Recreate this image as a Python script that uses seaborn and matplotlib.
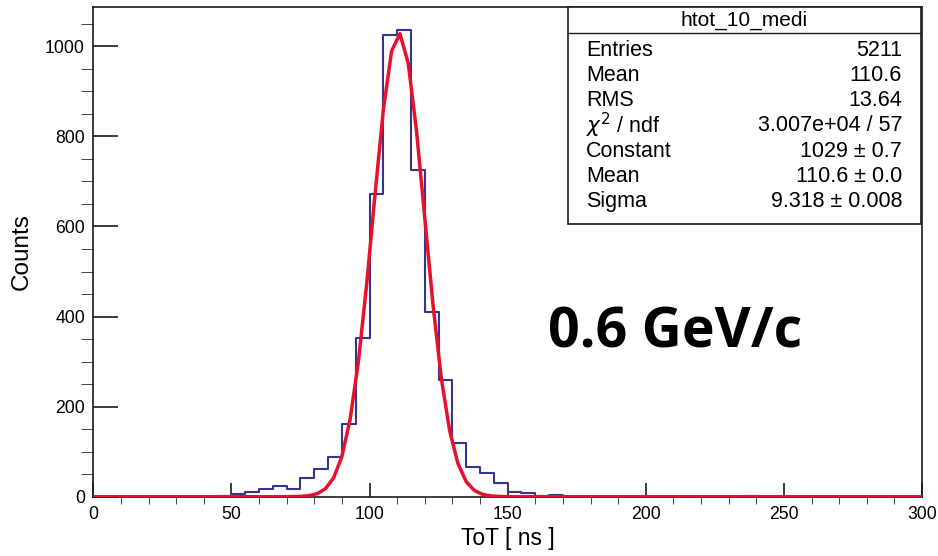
import numpy as np
import pandas as pd
import seaborn as sns
import matplotlib.pyplot as plt
from matplotlib.patches import Rectangle
from matplotlib.lines import Line2D
from matplotlib.ticker import MultipleLocator

# ToT histogram, 5 ns bins over 0..300 ns (counts)
bin_edges = list(range(0, 305, 5))
counts = [
    0, 0, 0, 0, 0, 0, 0, 0, 0, 1,          # 0 - 50
    6, 11, 16, 24, 18, 42, 62, 88, 162, 353,  # 50 - 100
    672, 1025, 1036, 726, 409, 260, 119, 67, 53, 30,  # 100 - 150
    10, 8, 1, 4, 0, 0, 0, 0, 0, 0,          # 150 - 200
    0, 0, 0, 0, 0, 0, 0, 1, 0, 0,          # 200 - 250
    0, 0, 0, 0, 0, 0, 0, 0, 0, 0,          # 250 - 300
]
bin_centers = [e + 2.5 for e in bin_edges[:-1]]

# gaussian fit parameters from the stats box
fit_const = 1029
fit_mean = 110.6
fit_sigma = 9.318

stat_names = ["Entries", "Mean", "RMS", r"$\chi^{2}$ / ndf", "Constant", "Mean", "Sigma"]
stat_values = ["5211", "110.6", "13.64", "3.007e+04 / 57", "1029 ± 0.7", "110.6 ± 0.0", "9.318 ± 0.008"]
hist_name = "htot_10_medi"

sns.set_style("ticks")
plt.rcParams["font.family"] = ["Liberation Sans", "DejaVu Sans"]
plt.rcParams["mathtext.fontset"] = "dejavusans"
plt.rcParams["text.color"] = "black"
plt.rcParams["axes.labelcolor"] = "black"

W, H = 938, 556
fig = plt.figure(figsize=(W / 100, H / 100), dpi=100)
ax_l, ax_r, ax_t, ax_b = 93.3, 922, 6.7, 496.7
ax = fig.add_axes([ax_l / W, 1 - ax_b / H, (ax_r - ax_l) / W, (ax_b - ax_t) / H])

df = pd.DataFrame({"tot": bin_centers, "n": counts})
sns.histplot(data=df, x="tot", weights="n", bins=bin_edges, element="step",
             fill=False, color="#33378a", linewidth=1.5, ax=ax)

# fitted gaussian, drawn like ROOT with 100 segments
fit_x = np.linspace(0, 300, 101)
fit_y = fit_const * np.exp(-0.5 * ((fit_x - fit_mean) / fit_sigma) ** 2)
sns.lineplot(x=fit_x, y=fit_y, color="#e8102a", linewidth=2.5, ax=ax, zorder=5)

ax.set_xlim(0, 300)
ax.set_ylim(0, 1088)
ax.xaxis.set_major_locator(MultipleLocator(50))
ax.xaxis.set_minor_locator(MultipleLocator(10))
ax.yaxis.set_major_locator(MultipleLocator(200))
ax.yaxis.set_minor_locator(MultipleLocator(50))
ax.tick_params(direction="in", width=1.2, labelsize=12.7, color="#1a1a1a",
               labelcolor="black")
ax.tick_params(axis="x", which="major", length=10, pad=7)
ax.tick_params(axis="x", which="minor", length=5)
ax.tick_params(axis="y", which="major", length=18, pad=6)
ax.tick_params(axis="y", which="minor", length=9)
for s in ax.spines.values():
    s.set_visible(True)
    s.set_linewidth(1.2)
    s.set_color("#1a1a1a")

ax.set_xlabel("ToT [ ns ]", fontsize=16.5)
ax.set_ylabel("Counts", fontsize=17.5)
ax.xaxis.set_label_coords(0.5, (ax_b - 527) / (ax_b - ax_t))
ax.yaxis.set_label_coords((33 - ax_l) / (ax_r - ax_l), 0.5)

# stats box
bx0, bx1, by0, by1, bsep = 568, 921, 7, 224.3, 33
fig.add_artist(Rectangle((bx0 / W, 1 - by1 / H), (bx1 - bx0) / W, (by1 - by0) / H,
                         transform=fig.transFigure, facecolor="white",
                         edgecolor="#1a1a1a", linewidth=1.2, zorder=10))
fig.add_artist(Line2D([bx0 / W, bx1 / W], [1 - bsep / H, 1 - bsep / H],
                      transform=fig.transFigure, color="#1a1a1a", linewidth=1.0, zorder=11))
fig.text((bx0 + bx1) / 2 / W, 1 - 20 / H, hist_name, ha="center", va="center",
         fontsize=15, zorder=12)
for i, (name, val) in enumerate(zip(stat_names, stat_values)):
    yy = 1 - (50 + 25.3 * i) / H
    fig.text(586 / W, yy, name, ha="left", va="center", fontsize=15.5, zorder=12)
    fig.text(902 / W, yy, val, ha="right", va="center", fontsize=15.5, zorder=12)

fig.text(675.5 / W, 1 - 347 / H, "0.6 GeV/c", ha="center", va="baseline",
         fontsize=40, fontweight="bold", family="Open Sans", color="black")

fig.savefig("out.png", dpi=100)
